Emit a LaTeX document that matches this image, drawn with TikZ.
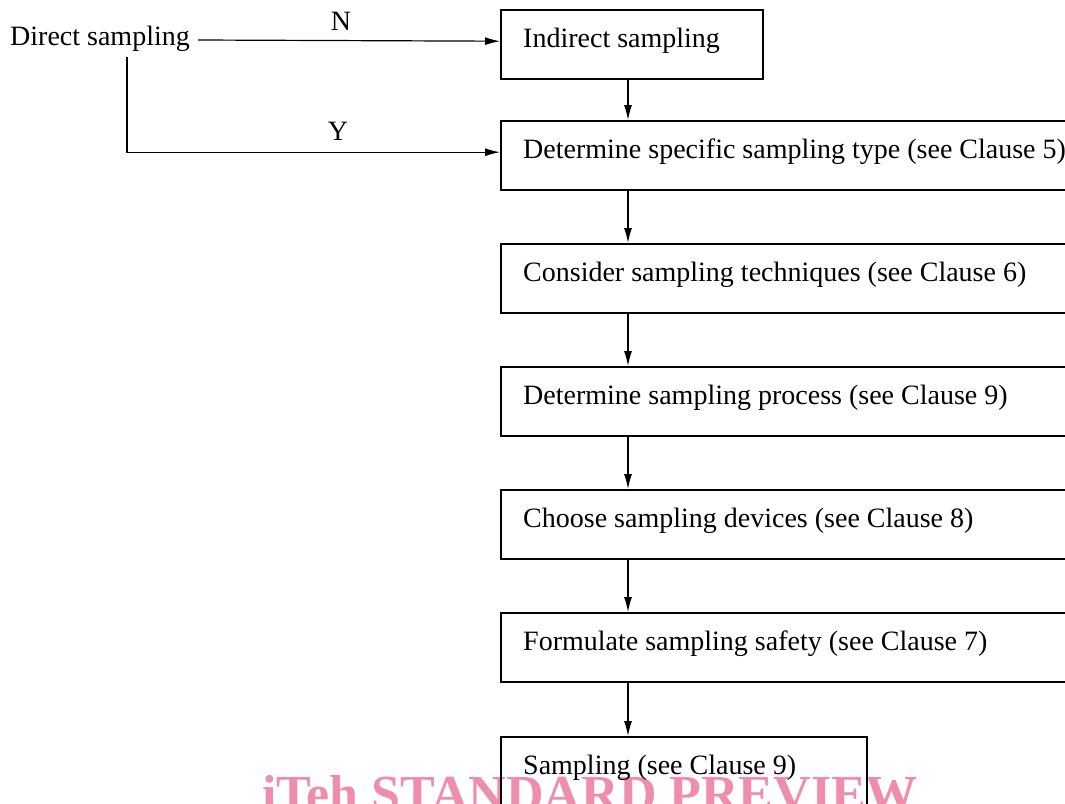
\documentclass[tikz,border=0pt]{standalone}
\usepackage{fontspec}
\setmainfont{Liberation Serif}
\usetikzlibrary{arrows.meta,calc}
\definecolor{wmpink}{RGB}{238,142,172}
\tikzset{
  stepbox/.style={draw, line width=2.4pt, anchor=north west, minimum height=69pt,
    inner xsep=22pt, inner ysep=0pt, text height=17pt, text depth=12pt,
    execute at begin node={\spaceskip=0pt\relax\xspaceskip=0pt\relax}},
  arr/.style={line width=1.2pt, -{Latex[length=15pt,width=8pt]}},
  lbl/.style={inner sep=0pt}
}
\begin{document}
\begin{tikzpicture}[x=1pt,y=1pt,font=\fontsize{28}{32}\selectfont]
\useasboundingbox (0,0) rectangle (1065,-803);
\clip (0,0) rectangle (1065,-803);
\fill[white] (0,0) rectangle (1065,-803);

% watermark along the bottom edge
\node[anchor=base west, inner sep=0pt, text=wmpink,
  font=\bfseries\fontsize{52}{52}\selectfont] (wm) at (262,-811) {iTeh STANDARD PREVIEW};

% process boxes
\node[stepbox, text width=218pt] (b1) at (500,-9) {Indirect sampling};
\node[stepbox, text width=700pt] (b2) at (500,-120) {Determine specific sampling type (see Clause 5)};
\node[stepbox, text width=700pt] (b3) at (500,-243) {Consider sampling techniques (see Clause 6)};
\node[stepbox, text width=700pt] (b4) at (500,-366) {Determine sampling process (see Clause 9)};
\node[stepbox, text width=700pt] (b5) at (500,-489) {Choose sampling devices (see Clause 8)};
\node[stepbox, text width=700pt] (b6) at (500,-612) {Formulate sampling safety (see Clause 7)};
\node[stepbox, text width=322pt, minimum height=120pt, text depth=63pt] (b7) at (500,-736) {Sampling (see Clause 9)};

% decision start
\node[anchor=base west, inner sep=0pt] (ds) at (10,-45) {Direct sampling};
\coordinate (nstart) at ($(ds.east)+(8,0)$);
\coordinate (ysplit) at (127,-57);
\coordinate (xa) at (628,0);

\draw[arr] (nstart |- 0,-40) -- ([yshift=3.5pt]b1.west);
\draw[arr] (ysplit) |- ([yshift=3.5pt]b2.west);
\node[lbl] (nl) at (341,-21) {N};
\node[lbl] (yl) at (338,-131) {Y};

% vertical flow
\draw[arr] (b1.south -| xa) -- (b2.north -| xa);
\draw[arr] (b2.south -| xa) -- (b3.north -| xa);
\draw[arr] (b3.south -| xa) -- (b4.north -| xa);
\draw[arr] (b4.south -| xa) -- (b5.north -| xa);
\draw[arr] (b5.south -| xa) -- (b6.north -| xa);
\draw[arr] (b6.south -| xa) -- (b7.north -| xa);
\end{tikzpicture}
\end{document}
